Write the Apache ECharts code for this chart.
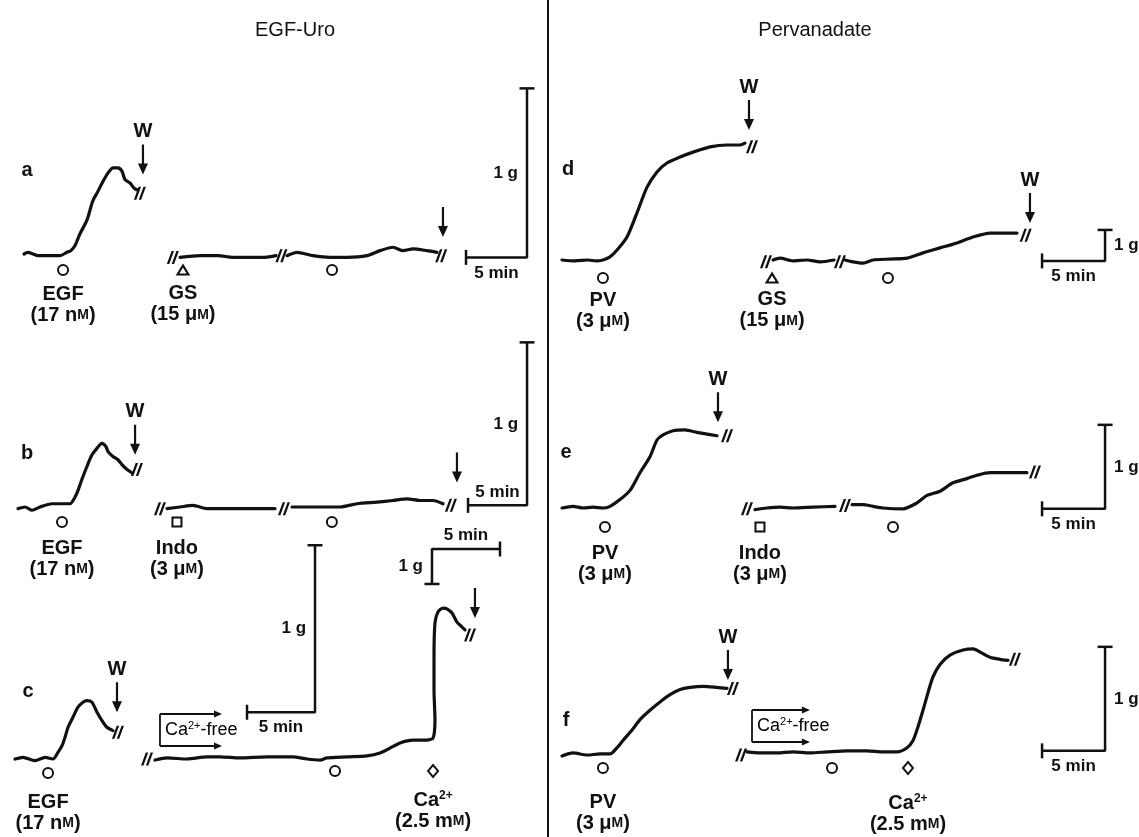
<!DOCTYPE html>
<html>
<head>
<meta charset="utf-8">
<script src="https://cdn.jsdelivr.net/npm/echarts@6/dist/echarts.min.js"></script>
<style>
  html, body { margin: 0; padding: 0; background: #ffffff; }
  #chart { width: 1139px; height: 837px; }
</style>
</head>
<body>
<div id="chart"></div>
<script>
// Isometric tension recordings. Time in minutes, tension in grams.

// ---- EGF-Uro, panel a ----
const traceA1 = [[0,0],[0.33,0.01],[0.74,0],[1.15,-0.01],[1.72,-0.01],[2.30,-0.01],[2.95,-0.01],[3.52,0.01],[3.85,0.02],[4.18,0.05],[4.59,0.12],[5.16,0.20],[5.57,0.30],[5.74,0.33],[5.98,0.36],[6.48,0.43],[6.89,0.48],[7.30,0.51],[7.70,0.51],[8.03,0.49],[8.28,0.44],[8.69,0.42],[9.02,0.39],[9.26,0.38]];
const traceA2a = [[12.79,-0.02],[14.43,-0.01],[15.90,-0.01],[17.13,-0.02],[18.52,-0.02],[19.75,-0.02],[20.66,-0.01]];
const traceA2b = [[21.56,-0.01],[22.38,0.01],[23.69,-0.01],[25.08,-0.02],[26.48,-0.02],[28.11,-0.01],[29.18,0.02],[30.25,0.04],[31.07,0.02],[31.89,0.03],[33.03,0.02],[33.85,0.01]];
const breaksA = [[9.5,0.36],[12.2,-0.02],[21.1,-0.01],[34.2,-0.01]];
const washA = [[9.75,0.47,'W'],[34.34,0.10,'']];
const eventsA = [
  {t: 3.2,   mark: 'circle',   agent: 'EGF', conc: '17', unit: 'nM'},
  {t: 13.03, mark: 'triangle', agent: 'GS',  conc: '15', unit: 'μM'},
  {t: 25.25, mark: 'circle'}
];

// ---- EGF-Uro, panel b ----
const traceB1 = [[0,-0.01],[0.59,0],[1.19,-0.02],[1.86,0],[2.88,0.02],[3.73,0.02],[4.41,0.02],[4.83,0.06],[5.08,0.10],[5.42,0.17],[5.85,0.25],[6.27,0.32],[6.69,0.36],[7.12,0.39],[7.46,0.37],[7.63,0.34],[8.05,0.31],[8.47,0.29],[8.81,0.26],[9.24,0.23],[9.66,0.21]];
const traceB2a = [[12.63,-0.01],[13.73,0],[14.83,0.01],[16.02,-0.01],[18.22,-0.01],[20.51,-0.01],[21.78,-0.01]];
const traceB2b = [[23.22,0],[25.0,0],[27.29,0],[28.73,0.02],[30.42,0.03],[31.78,0.04],[32.97,0.05],[34.07,0.04],[35.17,0.04],[36.02,0.02]];
const breaksB = [[10.08,0.23],[12.03,-0.01],[22.54,-0.01],[36.69,0.01]];
const washB = [[9.92,0.32,'W'],[37.2,0.15,'']];
const eventsB = [
  {t: 3.73,  mark: 'circle', agent: 'EGF',  conc: '17', unit: 'nM'},
  {t: 13.47, mark: 'rect',   agent: 'Indo', conc: '3',  unit: 'μM'},
  {t: 26.6,  mark: 'circle'}
];

// ---- EGF-Uro, panel c (EGF response, then Ca2+-free run with its own tension scale) ----
const traceC1 = [[0,0],[0.59,0.01],[1.47,-0.01],[2.21,0.01],[2.79,0],[3.16,0.04],[3.46,0.08],[3.68,0.13],[3.90,0.19],[4.26,0.25],[4.63,0.31],[5.0,0.34],[5.29,0.35],[5.66,0.34],[6.03,0.28],[6.40,0.23],[6.76,0.19],[7.2,0.17]];
const breaksC1 = [[7.57,0.16]];
const washC1 = [[7.5,0.28,'W']];
const eventsC1 = [{t: 2.43, mark: 'circle', agent: 'EGF', conc: '17', unit: 'nM'}];

const traceC2 = [[10.29,-0.03],[11.18,0.03],[12.65,0],[14.12,0.06],[15.07,0.06],[16.54,0.03],[18.53,0.06],[20.44,0.06],[21.47,0],[22.43,-0.03],[22.94,0.03],[24.41,0.06],[25.88,0.09],[26.84,0.17],[27.57,0.31],[28.31,0.46],[29.26,0.54],[30.29,0.54],[30.74,0.60],[30.88,1.11],[30.81,1.97],[30.81,2.91],[30.88,3.89],[31.10,4.20],[31.47,4.31],[31.76,4.29],[32.13,4.17],[32.50,3.91],[32.87,3.77],[33.09,3.69]];
const breaksC2 = [[9.71,0],[33.46,3.54]];
const washC2 = [[33.82,4.03,'']];
const eventsC2 = [
  {t: 23.53, mark: 'circle'},
  {t: 30.74, mark: 'diamond', agent: 'Ca2+', conc: '2.5', unit: 'mM'}
];
const caFreeC = [10.66, 15.22];

// ---- Pervanadate, panel d ----
const traceD1 = [[0,0],[1.03,-0.03],[2.06,0],[2.70,-0.03],[3.25,0],[3.81,0.10],[4.37,0.32],[5.16,0.74],[5.95,1.52],[6.75,2.35],[7.54,2.84],[8.33,3.13],[9.37,3.32],[10.40,3.48],[11.75,3.65],[13.10,3.71],[14.13,3.71],[14.52,3.77]];
const traceD2a = [[16.75,0],[17.30,0.06],[18.33,-0.03],[19.44,0],[20.48,-0.06],[21.59,0]];
const traceD2b = [[22.46,0],[23.10,-0.06],[23.89,-0.1],[24.68,0],[26.03,0.03],[27.38,0.06],[28.65,0.23],[30.0,0.39],[31.35,0.55],[32.62,0.74],[33.97,0.87],[35.32,0.87],[36.11,0.87]];
const breaksD = [[15.08,3.65],[16.19,-0.06],[22.06,-0.06],[36.8,0.8]];
const washD = [[14.84,4.19,'W'],[37.14,1.19,'W']];
const eventsD = [
  {t: 3.25,  mark: 'circle',   agent: 'PV', conc: '3',  unit: 'μM'},
  {t: 16.67, mark: 'triangle', agent: 'GS', conc: '15', unit: 'μM'},
  {t: 25.87, mark: 'circle'}
];

// ---- Pervanadate, panel e ----
const traceE1 = [[0,0],[0.87,0.02],[1.67,0],[2.46,0.01],[3.25,0],[3.81,0.02],[4.60,0.10],[5.40,0.21],[6.19,0.42],[6.98,0.61],[7.54,0.81],[8.02,0.87],[8.81,0.92],[9.76,0.93],[10.71,0.90],[11.51,0.88],[12.30,0.86]];
const traceE2a = [[15.32,-0.02],[16.27,0],[17.30,0.01],[18.33,0],[19.92,0.01],[21.67,0.02]];
const traceE2b = [[23.02,0.04],[23.89,0.04],[24.68,0.02],[25.48,0],[27.06,-0.01],[28.17,0.06],[28.97,0.15],[30.0,0.20],[31.03,0.30],[32.14,0.35],[32.94,0.39],[33.97,0.42],[35.32,0.42],[36.9,0.42]];
const breaksE = [[13.1,0.86],[14.68,-0.01],[22.46,0.03],[37.54,0.43]];
const washE = [[12.38,1.02,'W']];
const eventsE = [
  {t: 3.41,  mark: 'circle', agent: 'PV',   conc: '3', unit: 'μM'},
  {t: 15.71, mark: 'rect',   agent: 'Indo', conc: '3', unit: 'μM'},
  {t: 26.27, mark: 'circle'}
];

// ---- Pervanadate, panel f ----
const traceF1 = [[0,-0.01],[0.87,0.02],[1.98,0],[3.02,0.01],[3.81,0.01],[4.37,0.07],[4.84,0.14],[5.56,0.24],[6.19,0.34],[6.98,0.43],[7.78,0.51],[8.57,0.58],[9.37,0.63],[10.16,0.65],[11.19,0.66],[12.30,0.65],[13.10,0.64]];
const traceF2 = [[14.68,0.03],[15.71,0.02],[17.06,0.02],[18.33,0.03],[19.68,0.02],[21.03,0.03],[22.62,0.04],[24.21,0.04],[25.48,0.03],[26.59,0.03],[27.38,0.07],[27.86,0.14],[28.25,0.27],[28.65,0.43],[29.05,0.60],[29.44,0.75],[30.0,0.87],[30.79,0.96],[31.83,1.01],[32.62,1.02],[33.33,0.98],[33.97,0.94],[34.76,0.92],[35.40,0.91]];
const breaksF = [[13.57,0.64],[14.21,0],[35.95,0.92]];
const washF = [[13.17,0.72,'W']];
const eventsF = [
  {t: 3.25,  mark: 'circle',  agent: 'PV',   conc: '3',   unit: 'μM'},
  {t: 21.43, mark: 'circle'},
  {t: 27.46, mark: 'diamond', agent: 'Ca2+', conc: '2.5', unit: 'mM'}
];
const caFreeF = [15.08, 19.68];

// calibration bars
const SCALE_MIN = 5;
const SCALE_G = 1;

// ---------------------------------------------------------------------------
const W = 1139, H = 837;
const INK = '#111111';
const FONT = '"Liberation Sans", Arial, Helvetica, sans-serif';

// Each recording has its own gain: origin pixel of (0 min, 0 g) and pixels per unit.
const frames = {
  a:  {x0: 24,  y0: 254, sx: 12.2, sy: 169},
  b:  {x0: 18,  y0: 507, sx: 11.8, sy: 163},
  c1: {x0: 15,  y0: 759, sx: 13.6, sy: 167},
  c2: {x0: 15,  y0: 759, sx: 13.6, sy: 35},
  d:  {x0: 562, y0: 260, sx: 12.6, sy: 31},
  e:  {x0: 562, y0: 508, sx: 12.6, sy: 84},
  f:  {x0: 562, y0: 755, sx: 12.6, sy: 104}
};
const frameKeys = Object.keys(frames);
const fi = k => frameKeys.indexOf(k);

const markerDrop = {a: 16, b: 15, c1: 14, c2: 12, d: 18, e: 19, f: 13};
const captionGap = {a: 8, b: 10, c1: 13, c2: 12, d: 6, e: 10, f: 18};
const scaleLayout = {
  a:  {corner: [41.23, -0.02], h: -1, v: 1,  minSide: 'bottom', gSide: 'left'},
  b:  {corner: [43.14, 0.01],  h: -1, v: 1,  minSide: 'top',    gSide: 'left'},
  c1: {corner: [22.06, 0.28],  h: -1, v: 1,  minSide: 'bottom', gSide: 'left'},
  c2: {corner: [30.66, 6.0],   h: 1,  v: -1, minSide: 'top',    gSide: 'left'},
  d:  {corner: [43.1, -0.03],  h: -1, v: 1,  minSide: 'bottom', gSide: 'right'},
  e:  {corner: [43.1, -0.01],  h: -1, v: 1,  minSide: 'bottom', gSide: 'right'},
  f:  {corner: [43.1, 0.04],   h: -1, v: 1,  minSide: 'bottom', gSide: 'right'}
};

const panels = [
  {k: 'a',  traces: [traceA1, traceA2a, traceA2b], breaks: breaksA,  wash: washA,  events: eventsA},
  {k: 'b',  traces: [traceB1, traceB2a, traceB2b], breaks: breaksB,  wash: washB,  events: eventsB},
  {k: 'c1', traces: [traceC1],                     breaks: breaksC1, wash: washC1, events: eventsC1},
  {k: 'c2', traces: [traceC2],                     breaks: breaksC2, wash: washC2, events: eventsC2},
  {k: 'd',  traces: [traceD1, traceD2a, traceD2b], breaks: breaksD,  wash: washD,  events: eventsD},
  {k: 'e',  traces: [traceE1, traceE2a, traceE2b], breaks: breaksE,  wash: washE,  events: eventsE},
  {k: 'f',  traces: [traceF1, traceF2],            breaks: breaksF,  wash: washF,  events: eventsF}
];

const BREAK_PATH = 'path://M0,13L2.5,13L7.4,0L4.9,0Z M5,13L7.5,13L12.4,0L9.9,0Z';
const ARROW_PATH = 'path://M3.9,0L6.1,0L6.1,19L10,19L5,30L0,19L3.9,19Z';
const MARK_SYMBOL = {circle: 'emptyCircle', triangle: 'emptyTriangle', rect: 'emptyRect', diamond: 'emptyDiamond'};
const MARK_SIZE = {circle: 10, triangle: [11, 9], rect: 9, diamond: [10, 12]};

const rich = {
  n: {fontFamily: FONT, fontSize: 20, fontWeight: 'bold', color: INK, lineHeight: 21},
  s: {fontFamily: FONT, fontSize: 14, fontWeight: 'bold', color: INK, lineHeight: 21},
  p: {fontFamily: FONT, fontSize: 12, fontWeight: 'bold', color: INK, lineHeight: 12, verticalAlign: 'top'}
};
function agentText(agent) {
  if (agent.endsWith('2+')) return '{n|' + agent.slice(0, -2) + '}{p|2+}';
  return '{n|' + agent + '}';
}
function concText(conc, unit) {
  return '{n|(' + conc + ' ' + unit.slice(0, -1) + '}{s|' + unit.slice(-1) + '}{n|)}';
}

const grid = frameKeys.map(() => ({left: 0, right: 0, top: 0, bottom: 0}));
const xAxis = frameKeys.map((k, i) => {
  const f = frames[k];
  return {type: 'value', gridIndex: i, show: false, min: -f.x0 / f.sx, max: (W - f.x0) / f.sx};
});
const yAxis = frameKeys.map((k, i) => {
  const f = frames[k];
  return {type: 'value', gridIndex: i, show: false, min: -(H - f.y0) / f.sy, max: f.y0 / f.sy};
});

const solid = {color: INK, opacity: 1};
const series = [];
panels.forEach(p => {
  const i = fi(p.k);
  p.traces.forEach(tr => {
    series.push({
      type: 'line', xAxisIndex: i, yAxisIndex: i, data: tr,
      showSymbol: false, smooth: 0.25, silent: true, z: 3,
      lineStyle: {color: INK, width: 3.2, cap: 'round', join: 'round', opacity: 1}
    });
  });
  series.push({
    type: 'scatter', xAxisIndex: i, yAxisIndex: i, data: p.breaks,
    symbol: BREAK_PATH, symbolSize: [12, 13], silent: true, z: 4,
    itemStyle: solid
  });
  series.push({
    type: 'scatter', xAxisIndex: i, yAxisIndex: i, silent: true, z: 4,
    data: p.wash.map(w => ({
      value: [w[0], w[1]],
      label: {show: !!w[2], formatter: w[2]}
    })),
    symbol: ARROW_PATH, symbolSize: [10, 30], symbolOffset: [0, -15],
    itemStyle: solid,
    label: {position: 'top', distance: 3, fontFamily: FONT, fontSize: 20, fontWeight: 'bold', color: INK, opacity: 1}
  });
  series.push({
    type: 'scatter', xAxisIndex: i, yAxisIndex: i, silent: true, z: 4,
    data: p.events.map(ev => ({
      value: [ev.t, 0],
      symbol: MARK_SYMBOL[ev.mark],
      symbolSize: MARK_SIZE[ev.mark],
      label: ev.agent ? {
        show: true, position: 'bottom', distance: captionGap[p.k], opacity: 1,
        formatter: agentText(ev.agent) + '\n' + concText(ev.conc, ev.unit), rich: rich
      } : {show: false}
    })),
    symbolOffset: [0, markerDrop[p.k]],
    itemStyle: {color: INK, borderColor: INK, borderWidth: 2.2, opacity: 1}
  });

  // calibration bar
  const s = scaleLayout[p.k];
  const tc = s.corner[0], gc = s.corner[1];
  const tEnd = tc + s.h * SCALE_MIN, gEnd = gc + s.v * SCALE_G;
  const lbl = {fontFamily: FONT, fontSize: 17, fontWeight: 'bold', color: INK};
  series.push({
    type: 'line', xAxisIndex: i, yAxisIndex: i, silent: true, z: 3,
    showSymbol: true, showAllSymbol: true, smooth: false,
    lineStyle: {color: INK, width: 2.5, opacity: 1},
    itemStyle: solid,
    data: [
      {value: [tEnd, gc], symbol: 'rect', symbolSize: [2.5, 15]},
      {value: [(tEnd + tc) / 2, gc], symbol: 'circle', symbolSize: 0,
        label: Object.assign({show: true, position: s.minSide, distance: s.minSide === 'top' ? 5 : 7, formatter: SCALE_MIN + ' min'}, lbl)},
      {value: [tc, gc], symbol: 'none'},
      {value: [tc, (gc + gEnd) / 2], symbol: 'circle', symbolSize: 0,
        label: Object.assign({show: true, position: s.gSide, distance: 9, formatter: SCALE_G + ' g'}, lbl)},
      {value: [tc, gEnd], symbol: 'rect', symbolSize: [15, 2.5]}
    ]
  });
});

const textStyle = (txt, x, y, size, weight) => ({
  type: 'text', x: x, y: y, silent: true,
  style: {text: txt, fontFamily: FONT, fontSize: size, fontWeight: weight, fill: INK,
          align: 'center', verticalAlign: 'middle', textAlign: 'center', textVerticalAlign: 'middle'}
});

const graphics = [
  textStyle('EGF-Uro', 295, 30, 20, 'normal'),
  textStyle('Pervanadate', 815, 30, 20, 'normal'),
  textStyle('a', 27, 170, 20, 'bold'),
  textStyle('b', 27, 453, 20, 'bold'),
  textStyle('c', 28, 691, 20, 'bold'),
  textStyle('d', 568, 169, 20, 'bold'),
  textStyle('e', 566, 452, 20, 'bold'),
  textStyle('f', 566, 720, 20, 'bold'),
  {type: 'line', silent: true, shape: {x1: 548, y1: 0, x2: 548, y2: H}, style: {stroke: INK, lineWidth: 2}}
];

const chart = echarts.init(document.getElementById('chart'), null, {renderer: 'canvas'});
chart.setOption({
  animation: false,
  backgroundColor: '#ffffff',
  grid: grid, xAxis: xAxis, yAxis: yAxis,
  series: series,
  graphic: graphics
});

// Ca2+-free bracket: a bar with two right-pointing arrows spanning the perfusion period
function caFreeBracket(k, span) {
  const i = fi(k);
  const p0 = chart.convertToPixel({gridIndex: i}, [span[0], 0]);
  const p1 = chart.convertToPixel({gridIndex: i}, [span[1], 0]);
  const xL = p0[0], xR = p1[0];
  const yB = p0[1] - 13, yT = p0[1] - 45;
  const out = [];
  const ln = (x1, y1, x2, y2) => ({type: 'line', silent: true, shape: {x1, y1, x2, y2}, style: {stroke: INK, lineWidth: 1.8}});
  out.push(ln(xL, yT, xL, yB));
  [yT, yB].forEach(y => {
    out.push(ln(xL, y, xR - 6, y));
    out.push({type: 'polygon', silent: true, shape: {points: [[xR - 8, y - 3.5], [xR, y], [xR - 8, y + 3.5]]}, style: {fill: INK}});
  });
  out.push({
    type: 'text', x: xL + 5, y: (yT + yB) / 2, silent: true,
    style: {
      text: '{c|Ca}{u|2+}{c|-free}',
      align: 'left', verticalAlign: 'middle', textAlign: 'left', textVerticalAlign: 'middle',
      rich: {
        c: {fontFamily: FONT, fontSize: 18, color: INK, lineHeight: 20},
        u: {fontFamily: FONT, fontSize: 11, color: INK, lineHeight: 11, verticalAlign: 'top'}
      }
    }
  });
  return out;
}

chart.setOption({
  graphic: graphics.concat(caFreeBracket('c2', caFreeC), caFreeBracket('f', caFreeF))
});
</script>
</body>
</html>
